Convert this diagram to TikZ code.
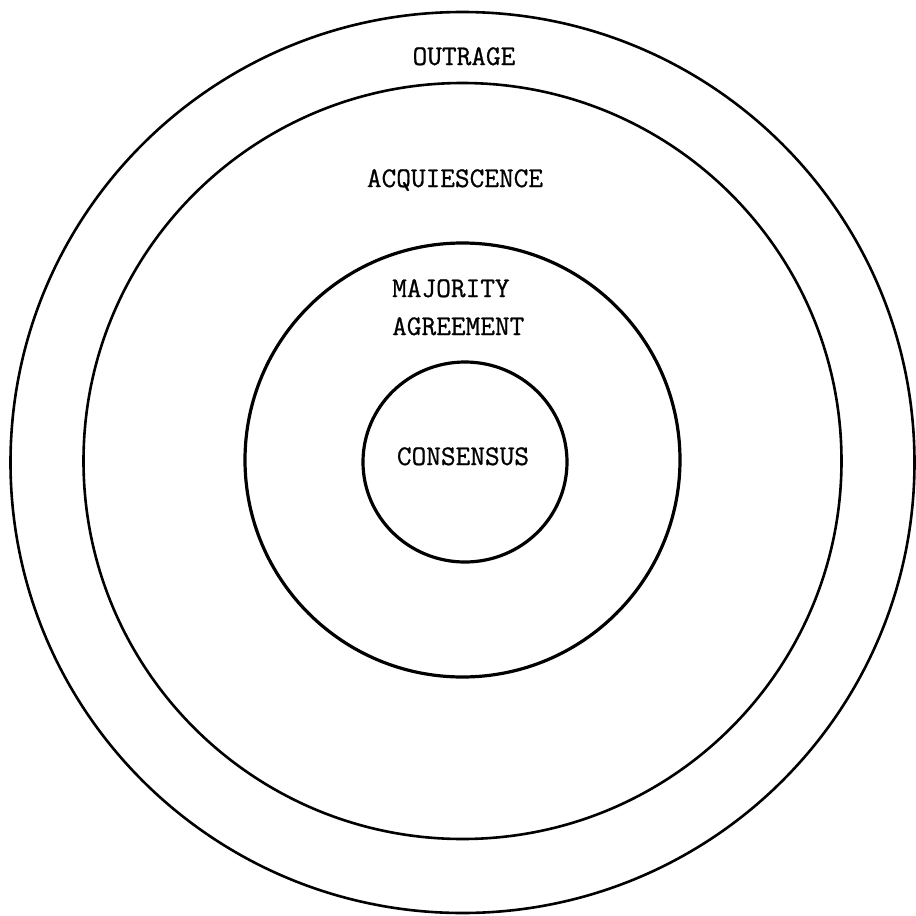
\documentclass[tikz,border=0pt]{standalone}
\usepackage{fontspec}
\newfontfamily\typew[FakeBold=0.8]{Latin Modern Mono}
\begin{document}
\begin{tikzpicture}[x=1pt,y=-1pt,
  ring/.style={line width=2.6pt},
  ringin/.style={line width=3.2pt},
  lab/.style={inner sep=0pt,anchor=base,font=\typew\fontsize{28.5}{34}\selectfont}]
\useasboundingbox (0,0) rectangle (916,916);
\draw[ring] (462.5,462.5) ellipse [x radius=452, y radius=450.5];
\draw[ring] (462.5,461) ellipse [x radius=379, y radius=378];
\draw[ringin] (462.5,460) ellipse [x radius=217.5, y radius=217];
\draw[ringin] (465,462) ellipse [x radius=102, y radius=100];
\node[lab] (out) at (464,65) {OUTRAGE};
\node[lab] (acq) at (455,187) {ACQUIESCENCE};
\node[lab,anchor=base west] (maj) at (392,297) {MAJORITY};
\node[lab,anchor=base west] (agr) at (392,335) {AGREEMENT};
\node[lab] (con) at (463,465) {CONSENSUS};
\end{tikzpicture}
\end{document}
